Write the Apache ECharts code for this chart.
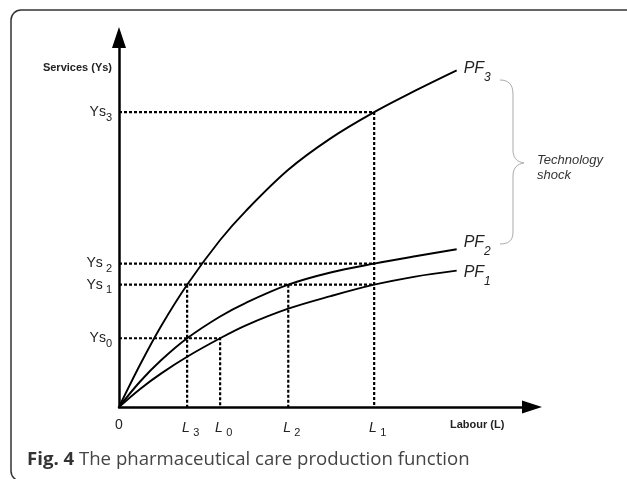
<!DOCTYPE html>
<html>
<head>
<meta charset="utf-8">
<title>The pharmaceutical care production function</title>
<script src="https://cdn.jsdelivr.net/npm/echarts@6.0.0/dist/echarts.min.js"></script>
<style>
  html, body { margin: 0; padding: 0; background: #fff; }
  #chart { width: 627px; height: 479px; }
</style>
</head>
<body>
<div id="chart"></div>
<script>
'use strict';

// labour (x) sampled along the three production functions, arbitrary units
var labour = [0, 0.5, 1, 1.61, 2.39, 3, 4, 5, 6.03, 7, 7.98];
var pf1 = [0, 0.49, 0.91, 1.36, 1.86, 2.21, 2.66, 3.0, 3.31, 3.53, 3.69];
var pf2 = [0, 0.69, 1.27, 1.86, 2.45, 2.82, 3.31, 3.64, 3.88, 4.08, 4.27];
var pf3 = [0, 1.15, 2.2, 3.31, 4.52, 5.31, 6.42, 7.27, 7.98, 8.56, 9.11];

// levels marked on the axes (Ys0..Ys3 and L3, L0, L2, L1)
var ysLevels = [1.86, 3.31, 3.88, 7.98];
var ysSubs = ['0', ' 1', ' 2', '3'];
var lLevels = [1.61, 2.39, 4.0, 6.03];
var lSubs = ['3', '0', '2', '1'];

var curveNames = ['1', '2', '3'];

(function(window, echarts) {

    var FONT = 'Liberation Sans';

    var chart = echarts.init(document.getElementById('chart'), null, {renderer: 'canvas'});

    function zip(ys) {
        return labour.map(function(x, i) { return [x, ys[i]]; });
    }

    // dotted guide lines, from the axes to the curves
    var guides = [
        [[0, ysLevels[3]], [lLevels[3], ysLevels[3]], [lLevels[3], 0]],
        [[0, ysLevels[2]], [lLevels[3], ysLevels[2]]],
        [[0, ysLevels[1]], [lLevels[3], ysLevels[1]]],
        [[0, ysLevels[0]], [lLevels[1], ysLevels[0]], [lLevels[1], 0]],
        [[lLevels[0], ysLevels[1]], [lLevels[0], 0]],
        [[lLevels[2], ysLevels[1]], [lLevels[2], 0]]
    ];

    var subRich = {
        p: {fontFamily: FONT, fontStyle: 'italic', fontSize: 16, lineHeight: 30, color: '#222'},
        s: {fontFamily: FONT, fontStyle: 'italic', fontSize: 12, lineHeight: 12, color: '#222', verticalAlign: 'bottom'}
    };
    var labelOffsets = [[0, 2], [0, -7], [0, -2]];

    function curve(ys, idx) {
        return {
            type: 'line',
            name: 'PF' + curveNames[idx],
            data: zip(ys),
            smooth: 0.35,
            showSymbol: false,
            symbol: 'none',
            z: 3,
            lineStyle: {color: '#000', width: 1.9},
            endLabel: {
                show: true,
                distance: 7,
                offset: labelOffsets[idx],
                formatter: '{p|PF}{s|' + curveNames[idx] + '}',
                rich: subRich
            }
        };
    }

    var braceStyle = {fill: 'none', stroke: '#aaa', lineWidth: 1};
    function bez(x1, y1, c1x, c1y, c2x, c2y, x2, y2) {
        return {
            type: 'bezierCurve', silent: true,
            shape: {x1: x1, y1: y1, cpx1: c1x, cpy1: c1y, cpx2: c2x, cpy2: c2y, x2: x2, y2: y2},
            style: braceStyle
        };
    }
    function seg(x1, y1, x2, y2) {
        return {type: 'line', silent: true, shape: {x1: x1, y1: y1, x2: x2, y2: y2}, style: braceStyle};
    }

    var option = {
        animation: false,
        backgroundColor: '#fff',
        grid: {left: 119, top: 37.5, right: 95, bottom: 72, outerBoundsMode: 'none'},
        xAxis: {
            type: 'value',
            min: 0,
            max: 9.76,
            splitLine: {show: false},
            axisTick: {show: false},
            axisLine: {
                lineStyle: {color: '#000', width: 2.5},
                symbol: ['none', 'triangle'],
                symbolSize: [13, 20]
            },
            axisLabel: {
                customValues: [0].concat(lLevels),
                margin: 11,
                formatter: function(v) {
                    var i = lLevels.indexOf(v);
                    if (i < 0) { return '{z|0}'; }
                    return '{m|L} {s|' + lSubs[i] + '}';
                },
                rich: {
                    z: {fontFamily: FONT, fontSize: 14, lineHeight: 14, color: '#222'},
                    m: {fontFamily: FONT, fontStyle: 'italic', fontSize: 14, lineHeight: 20, color: '#222', padding: [0, 0, 0, 7]},
                    s: {fontFamily: FONT, fontSize: 11, lineHeight: 11, color: '#222', verticalAlign: 'bottom'}
                }
            }
        },
        yAxis: {
            type: 'value',
            min: 0,
            max: 10,
            splitLine: {show: false},
            axisTick: {show: false},
            axisLine: {
                lineStyle: {color: '#000', width: 2.5},
                symbol: ['none', 'triangle'],
                symbolSize: [14, 21]
            },
            axisLabel: {
                customValues: ysLevels,
                margin: 7,
                formatter: function(v) {
                    var i = ysLevels.indexOf(v);
                    return '{m|Ys}{s|' + ysSubs[i] + '}';
                },
                rich: {
                    m: {fontFamily: FONT, fontSize: 14, lineHeight: 22, color: '#222'},
                    s: {fontFamily: FONT, fontSize: 11, lineHeight: 11, color: '#222', verticalAlign: 'bottom'}
                }
            }
        },
        series: [
            {
                type: 'lines',
                coordinateSystem: 'cartesian2d',
                polyline: true,
                silent: true,
                z: 2,
                lineStyle: {color: '#000', width: 2.2, type: [3, 2], opacity: 1},
                data: guides.map(function(c) { return {coords: c}; })
            },
            curve(pf1, 0),
            curve(pf2, 1),
            curve(pf3, 2)
        ],
        graphic: [
            {
                type: 'rect',
                silent: true,
                shape: {x: 11, y: 10, width: 640, height: 471, r: 10},
                style: {fill: 'none', stroke: '#333', lineWidth: 1.5}
            },
            // brace for the technology shock
            bez(500, 80, 508, 80, 513, 84, 513, 94),
            seg(513, 94, 513, 150),
            bez(513, 150, 513, 158, 517, 162, 524, 163),
            bez(524, 163, 517, 164, 513, 168, 513, 176),
            seg(513, 176, 513, 232),
            bez(513, 232, 513, 241, 508, 244, 500, 244),
            {
                type: 'text',
                x: 537, y: 152.5,
                style: {text: 'Technology\nshock', font: 'italic 13px "Liberation Sans"', fill: '#333', lineHeight: 15, align: 'left', verticalAlign: 'top'}
            },
            {
                type: 'text',
                x: 112, y: 68,
                style: {text: 'Services (Ys)', font: 'bold 11px "Liberation Sans"', fill: '#222', align: 'right', verticalAlign: 'middle'}
            },
            {
                type: 'text',
                x: 450, y: 425,
                style: {text: 'Labour (L)', font: 'bold 11px "Liberation Sans"', fill: '#222', align: 'left', verticalAlign: 'middle'}
            },
            {
                type: 'text',
                x: 27, y: 460,
                style: {
                    text: '{b|Fig. 4} The pharmaceutical care production function',
                    font: '18.6px "Open Sans"',
                    fill: '#444',
                    align: 'left',
                    verticalAlign: 'middle',
                    rich: {
                        b: {fontFamily: 'Open Sans', fontWeight: 'bold', fontSize: 18.6, fill: '#333'}
                    }
                }
            }
        ]
    };

    chart.setOption(option);

})(window, window.echarts);
</script>
</body>
</html>
